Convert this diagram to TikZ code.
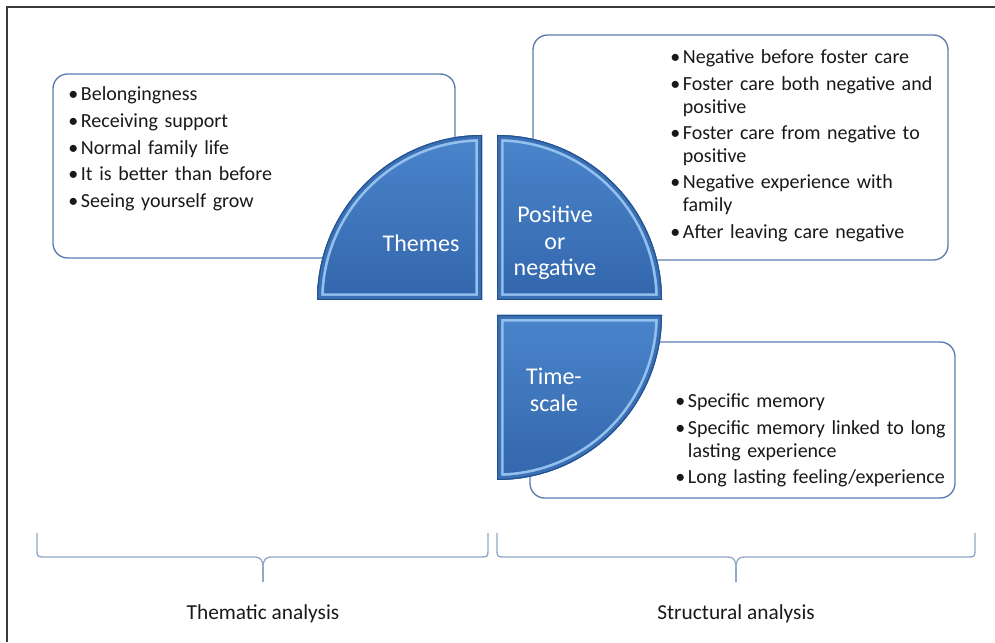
\documentclass[tikz,border=0pt]{standalone}
\usepackage{fontspec}
\setmainfont{Carlito}
\definecolor{boxline}{HTML}{5B7DAE}
\definecolor{bracecol}{HTML}{8FA8C8}
\definecolor{framecol}{HTML}{3A3A3A}
\definecolor{qtop}{HTML}{4A85CB}
\definecolor{qbot}{HTML}{3366AC}
\definecolor{qlight}{HTML}{93C0EC}
\definecolor{qrim}{HTML}{3A70B6}
\definecolor{qdark}{HTML}{24508C}
\newcommand{\bitem}[1]{\hangindent=9.5pt\hangafter=1\noindent\makebox[9.5pt][l]{\textbullet}#1\par}
\newcommand{\bevelquarter}[1]{%
  \begin{scope}
    \clip #1;
    \shade[top color=qtop,bottom color=qbot] #1;
    \draw[qlight,line width=10pt] #1;
    \draw[qrim,line width=6pt] #1;
    \draw[qdark,line width=1.6pt] #1;
  \end{scope}}
\tikzset{
  listbox/.style={draw=boxline, line width=1pt, rounded corners=11pt, fill=white},
  listtext/.style={anchor=base west, inner sep=0pt, text width=#1,
    font=\fontsize{15}{17.25}\selectfont, text=black!90},
  qlabel/.style={inner sep=0pt, align=center, text=white,
    font=\fontsize{18}{20}\selectfont},
  bottomlabel/.style={inner sep=0pt, anchor=base, text=black!90,
    font=\fontsize{16}{19}\selectfont},
  bracepath/.style={draw=bracecol, line width=1pt}
}
\begin{document}
\begin{tikzpicture}[x=0.75pt,y=0.75pt]
\useasboundingbox (0,0) rectangle (995,642);
% outer frame
\draw[framecol, line width=1.2pt] (7,0) -- (7,635) -- (995,635);
% list boxes
\draw[listbox] (53,384) rectangle (455,568);
\draw[listbox] (533,382) rectangle (948,607);
\draw[listbox] (530,144) rectangle (955,300);
% quarter circles
\bevelquarter{(482,342) -- (317,342) arc[start angle=180,end angle=90,radius=123.75pt] -- cycle}
\bevelquarter{(497,342) -- (497,507) arc[start angle=90,end angle=0,radius=123.75pt] -- cycle}
\bevelquarter{(497,327) -- (662,327) arc[start angle=0,end angle=-90,radius=123.75pt] -- cycle}
\node[qlabel] (themes) at (421,399) {Themes};
\node[qlabel] (posneg) at (555,399) {Positive\\or\\negative};
\node[qlabel] (timescale) at (554,252) {Time-\\scale};
% lists
\node[listtext=330pt] (themeslist) at (68,541) {\raggedright\setlength{\parskip}{2.75pt}%
  \bitem{Belongingness}\bitem{Receiving support}\bitem{Normal family life}%
  \bitem{It is better than before}\bitem{Seeing yourself grow}};
\node[listtext=300pt] (posneglist) at (670,578) {\raggedright\setlength{\parskip}{2.5pt}%
  \bitem{Negative before foster care}%
  \bitem{Foster care both negative and\break positive}%
  \bitem{Foster care from negative to\break positive}%
  \bitem{Negative experience with\break family}%
  \bitem{After leaving care negative}};
\node[listtext=300pt] (timelist) at (675,234) {\raggedright\setlength{\parskip}{2.5pt}%
  \bitem{Specific memory}%
  \bitem{Specific memory linked to long\break lasting experience}%
  \bitem{Long lasting feeling/experience}};
% braces
\draw[bracepath] (37,109) -- (37,91) .. controls (37,86) and (38,85) .. (43,85)
  -- (255,85) .. controls (260,85) and (263,82) .. (263,75)
  .. controls (263,82) and (266,85) .. (271,85) -- (482,85)
  .. controls (487,85) and (488,86) .. (488,91) -- (488,109);
\draw[bracepath] (263,75) -- (263,60);
\draw[bracepath] (497,109) -- (497,91) .. controls (497,86) and (498,85) .. (503,85)
  -- (728,85) .. controls (733,85) and (736,82) .. (736,75)
  .. controls (736,82) and (739,85) .. (744,85) -- (969,85)
  .. controls (974,85) and (975,86) .. (975,91) -- (975,109);
\draw[bracepath] (736,75) -- (736,60);
\node[bottomlabel] (thematic) at (263,22) {Thematic analysis};
\node[bottomlabel] (structural) at (736,22) {Structural analysis};
\end{tikzpicture}
\end{document}
